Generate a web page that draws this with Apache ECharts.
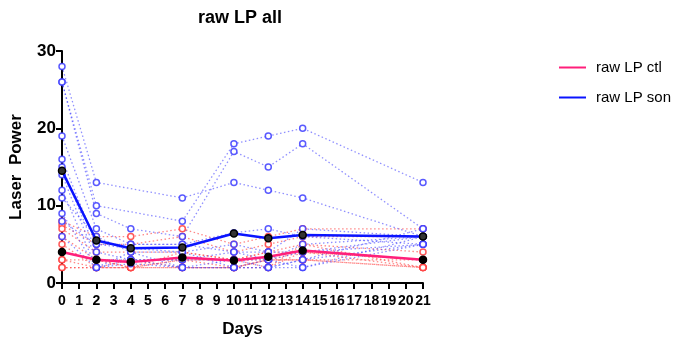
<!DOCTYPE html>
<html>
<head>
<meta charset="utf-8">
<script src="https://cdn.jsdelivr.net/npm/echarts@6/dist/echarts.min.js"></script>
<style>
  html, body { margin: 0; padding: 0; background: #fff; }
  #chart { width: 689px; height: 344px; }
</style>
</head>
<body>
<div id="chart"></div>
<script>
// days measured
const days = [0, 2, 4, 7, 10, 12, 14, 21];

// individual animals, son group (null = no point)
const sonAnimals = [
  [28, 13, null, 11, 13, 12, 11, 6],
  [26, 10, null, 8, 18, 19, 20, 13],
  [26, 9, 7, 6, 17, 15, 18, 7],
  [19, 7, 5, 5, 6.5, 7, 6, 5],
  [16, 5, 4.5, 4, 5, 4, 7, 6],
  [15, 4, 3, 3, 4, 3, 5, 6],
  [14, 3, 3, 2, 3, 3, 4, 5],
  [12, 2, 2.5, 2, 2, 2, 3, 7],
  [11, 6, 4, 4, 2, 2, 2, 6],
  [9, 2, 3, 3, 3, 2, 3, 5],
  [8, 5, 5, 5, 4, 4, 4, 6],
  [6, 2, 4, 2, 2, 3, 2, 5]
];

// individual animals, ctl group
const ctlAnimals = [
  [8, 6, 6, 7, 5, 6, 7, 7],
  [7.5, 5, 5, 6, 4, 5, 6, 6],
  [7, 4, 4, 4, 3, 4, 5, 4],
  [6, 3, 3, 3, 3, 3, 4, 3],
  [5, 2, 2, 2, 2, 3, 3, 2],
  [4, 3, 2, 3, 2, 2, 4, 3],
  [3, 2, 2, 2, 2, 3, 3, 2],
  [2, 2, 2, 3, 3, 2, 5, 2],
  [2, 2, 3, 2, 2, 3, 3, 3],
  [3, 3, 2, 4, 3, 4, 4, 2]
];

// group means
const ctlMean = [4, 3, 2.7, 3.3, 2.9, 3.4, 4.2, 3.0];
const sonMean = [14.5, 5.5, 4.5, 4.6, 6.4, 5.8, 6.2, 6.0];

const yTicks = [0, 10, 20, 30];

const FONT = '"Liberation Sans", Arial, sans-serif';
const CTL_COLOR = '#ff1f7a';
const SON_COLOR = '#0a14ff';

function pairs(vals) {
  return days.map((d, i) => [d, vals[i] == null ? '-' : vals[i]]);
}

// mean points: black markers, line keeps group colour
function meanPoints(vals, fill) {
  return days.map((d, i) => ({
    value: [d, vals[i]],
    itemStyle: { color: fill, borderColor: '#000', borderWidth: 1.5 }
  }));
}

function animalSeries(vals, color, lineColor, idx) {
  return {
    name: 'a' + idx,
    type: 'line',
    data: pairs(vals),
    connectNulls: true,
    symbol: 'circle',
    symbolSize: 6,
    showSymbol: true,
    silent: true,
    z: 2,
    lineStyle: { color: lineColor, width: 1.3, type: [1.5, 2.5] },
    itemStyle: { color: '#fff', borderColor: color, borderWidth: 1.5 }
  };
}

let series = [];
ctlAnimals.forEach((v, i) => series.push(animalSeries(v, 'rgba(255,60,60,0.85)', 'rgba(255,70,70,0.65)', 'c' + i)));
sonAnimals.forEach((v, i) => series.push(animalSeries(v, 'rgba(60,60,255,0.85)', 'rgba(70,70,255,0.6)', 's' + i)));

series.push({
  name: 'raw LP ctl',
  type: 'line',
  data: meanPoints(ctlMean, '#000'),
  symbol: 'circle',
  symbolSize: 7,
  z: 5,
  color: CTL_COLOR,
  lineStyle: { color: CTL_COLOR, width: 2.5 },
  itemStyle: { color: CTL_COLOR }
});
series.push({
  name: 'raw LP son',
  type: 'line',
  data: meanPoints(sonMean, '#333'),
  symbol: 'circle',
  symbolSize: 7,
  z: 6,
  color: SON_COLOR,
  lineStyle: { color: SON_COLOR, width: 2.5 },
  itemStyle: { color: SON_COLOR }
});

const chart = echarts.init(document.getElementById('chart'), null, { renderer: 'canvas' });
chart.setOption({
  backgroundColor: '#fff',
  animation: false,
  title: {
    text: 'raw LP all',
    left: 235,
    textAlign: 'center',
    top: 4,
    textStyle: { fontFamily: FONT, fontWeight: 'bold', fontSize: 18, color: '#000' }
  },
  legend: {
    data: ['raw LP ctl', 'raw LP son'],
    orient: 'vertical',
    left: 554,
    top: 55,
    itemGap: 15,
    itemWidth: 27,
    itemHeight: 2,
    icon: 'rect',
    textStyle: { fontFamily: FONT, fontSize: 15, color: '#000', padding: [0, 0, 0, 5] }
  },
  grid: { left: 60, right: 266, top: 51, bottom: 61, containLabel: false },
  xAxis: {
    type: 'value',
    min: 0,
    max: 21,
    interval: 1,
    name: 'Days',
    nameLocation: 'middle',
    nameGap: 38,
    nameTextStyle: { fontFamily: FONT, fontWeight: 'bold', fontSize: 17, color: '#000' },
    axisLine: { show: true, onZero: false, lineStyle: { color: '#000', width: 2 } },
    axisTick: { show: true, length: 6, lineStyle: { color: '#000', width: 2 } },
    axisLabel: { fontFamily: FONT, fontWeight: 'bold', fontSize: 14, color: '#000', margin: 11 },
    splitLine: { show: false }
  },
  yAxis: {
    type: 'value',
    min: yTicks[0],
    max: yTicks[yTicks.length - 1],
    interval: 10,
    name: 'Laser  Power',
    nameLocation: 'middle',
    nameGap: 37,
    nameTextStyle: { fontFamily: FONT, fontWeight: 'bold', fontSize: 17, color: '#000' },
    axisLine: { show: true, lineStyle: { color: '#000', width: 2 } },
    axisTick: { show: true, length: 6, lineStyle: { color: '#000', width: 2 } },
    axisLabel: { fontFamily: FONT, fontWeight: 'bold', fontSize: 17, color: '#000', margin: 6 },
    splitLine: { show: false }
  },
  series: series
});
</script>
</body>
</html>
